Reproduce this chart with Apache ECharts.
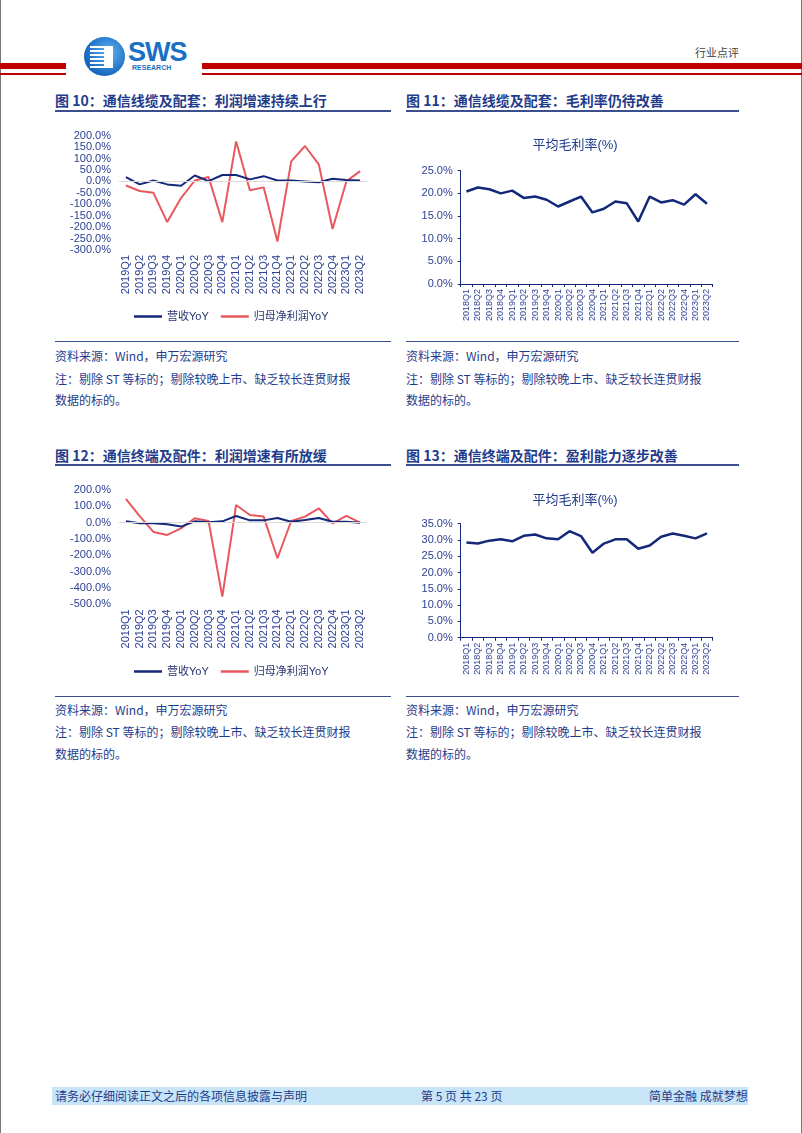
<!DOCTYPE html>
<html>
<head>
<meta charset="utf-8">
<script src="https://cdn.jsdelivr.net/npm/echarts@6/dist/echarts.min.js"></script>
<style>
html,body{margin:0;padding:0;background:#fff;}
body{width:802px;height:1133px;position:relative;overflow:hidden;font-family:"Noto Sans CJK SC","Liberation Sans",Arial,sans-serif;}
.abs{position:absolute;}
.red{background:#C00000;}
.head{font-size:14px;font-weight:bold;color:#1F3C8C;white-space:nowrap;line-height:16px;}
.uline{height:2px;background:#3B4F8F;}
.sline{height:1px;background:#3B4F8F;}
.src{font-size:12px;color:#1F3C8C;white-space:nowrap;line-height:14px;}
.foot{font-size:12px;color:#1F3C8C;white-space:nowrap;line-height:14px;}
#chart{position:absolute;left:0;top:0;width:802px;height:1133px;}
</style>
</head>
<body>
<div class="abs" style="left:0;top:0;width:1px;height:1133px;background:#777;"></div>
<div class="abs" style="left:801px;top:0;width:1px;height:1133px;background:#777;"></div>

<!-- header -->
<div class="abs red" style="left:0;top:63px;width:66px;height:6px;"></div>
<div class="abs red" style="left:0;top:73px;width:66px;height:2px;"></div>
<div class="abs red" style="left:202px;top:63px;width:600px;height:6px;"></div>
<div class="abs red" style="left:202px;top:73px;width:600px;height:2px;"></div>
<div class="abs" style="left:84px;top:37px;width:41px;height:39px;border-radius:50%;background:radial-gradient(circle at 60% 40%,#5FB4F0,#1565C0 70%);"></div>
<div class="abs" style="left:90px;top:46px;width:18px;height:22px;background:repeating-linear-gradient(#fff 0 2px,transparent 2px 4px);"></div>
<div class="abs" style="left:104px;top:46px;width:9px;height:22px;background:#fff;"></div>
<div class="abs" style="left:128px;top:38px;font-family:'Liberation Sans',Arial,sans-serif;font-weight:bold;font-size:27px;color:#1A6FC4;letter-spacing:-1px;line-height:28px;">SWS</div>
<div class="abs" style="left:132px;top:64px;font-family:'Liberation Sans',Arial,sans-serif;font-weight:bold;font-size:7px;color:#1A6FC4;line-height:8px;">RESEARCH</div>
<div class="abs" style="left:695px;top:45px;font-size:11px;color:#444;line-height:14px;">行业点评</div>

<!-- headings -->
<div class="abs head" style="left:55px;top:92px;">图 10：通信线缆及配套：利润增速持续上行</div>
<div class="abs uline" style="left:55px;top:110px;width:336px;"></div>
<div class="abs head" style="left:406px;top:92px;">图 11：通信线缆及配套：毛利率仍待改善</div>
<div class="abs uline" style="left:406px;top:110px;width:333px;"></div>

<div class="abs head" style="left:55px;top:447px;">图 12：通信终端及配件：利润增速有所放缓</div>
<div class="abs uline" style="left:55px;top:464px;width:336px;"></div>
<div class="abs head" style="left:406px;top:447px;">图 13：通信终端及配件：盈利能力逐步改善</div>
<div class="abs uline" style="left:406px;top:464px;width:333px;"></div>

<!-- sources -->
<div class="abs sline" style="left:55px;top:341px;width:336px;"></div>
<div class="abs sline" style="left:406px;top:341px;width:333px;"></div>
<div class="abs src" style="left:55px;top:349px;">资料来源：Wind，申万宏源研究</div>
<div class="abs src" style="left:55px;top:372px;">注：剔除 ST 等标的；剔除较晚上市、缺乏较长连贯财报</div>
<div class="abs src" style="left:55px;top:393px;">数据的标的。</div>
<div class="abs src" style="left:406px;top:349px;">资料来源：Wind，申万宏源研究</div>
<div class="abs src" style="left:406px;top:372px;">注：剔除 ST 等标的；剔除较晚上市、缺乏较长连贯财报</div>
<div class="abs src" style="left:406px;top:393px;">数据的标的。</div>

<div class="abs sline" style="left:55px;top:696px;width:336px;"></div>
<div class="abs sline" style="left:406px;top:696px;width:333px;"></div>
<div class="abs src" style="left:55px;top:703px;">资料来源：Wind，申万宏源研究</div>
<div class="abs src" style="left:55px;top:725px;">注：剔除 ST 等标的；剔除较晚上市、缺乏较长连贯财报</div>
<div class="abs src" style="left:55px;top:747px;">数据的标的。</div>
<div class="abs src" style="left:406px;top:703px;">资料来源：Wind，申万宏源研究</div>
<div class="abs src" style="left:406px;top:725px;">注：剔除 ST 等标的；剔除较晚上市、缺乏较长连贯财报</div>
<div class="abs src" style="left:406px;top:747px;">数据的标的。</div>

<!-- footer -->
<div class="abs" style="left:52px;top:1087px;width:696px;height:18px;background:#C8E5F7;"></div>
<div class="abs foot" style="left:55px;top:1089px;">请务必仔细阅读正文之后的各项信息披露与声明</div>
<div class="abs foot" style="left:421px;top:1089px;">第 5 页 共 23 页</div>
<div class="abs foot" style="left:649px;top:1089px;">简单金融 成就梦想</div>

<div id="chart"></div>

<script>
const quartersA = ['2019Q1','2019Q2','2019Q3','2019Q4','2020Q1','2020Q2','2020Q3','2020Q4','2021Q1','2021Q2','2021Q3','2021Q4','2022Q1','2022Q2','2022Q3','2022Q4','2023Q1','2023Q2'];
const quartersB = ['2018Q1','2018Q2','2018Q3','2018Q4','2019Q1','2019Q2','2019Q3','2019Q4','2020Q1','2020Q2','2020Q3','2020Q4','2021Q1','2021Q2','2021Q3','2021Q4','2022Q1','2022Q2','2022Q3','2022Q4','2023Q1','2023Q2'];

const cableRevenueYoY = [19,-13,4,-13,-19,26,1,28,28,9,23,4,4,0,-4,12,6,4];
const cableProfitYoY = [-18,-42,-50,-178,-73,4,19,-178,175,-39,-26,-263,88,155,75,-208,0,45];
const cableGrossMargin = [20.4,21.3,20.9,20.0,20.6,19.0,19.3,18.6,17.1,18.2,19.3,15.8,16.6,18.2,17.8,13.8,19.3,18.0,18.5,17.5,19.8,17.7];

const terminalRevenueYoY = [8,-4,-4,-10,-24,8,2,8,41,14,14,29,6,16,29,6,6,0];
const terminalProfitYoY = [145,40,-57,-75,-35,27,10,-453,108,47,37,-218,10,37,88,-4,41,0];
const terminalGrossMargin = [29.2,28.9,29.8,30.2,29.6,31.3,31.7,30.5,30.2,32.7,31.2,26.1,28.9,30.2,30.2,27.3,28.3,31.0,32.0,31.3,30.5,32.0];

const NAVY = '#14287A';
const RED = '#E8585E';
const LBL = '#2E4193';
const FF = '"Liberation Sans", Arial, "Noto Sans CJK SC", sans-serif';
const pct = v => v.toFixed(1) + '%';

const chart = echarts.init(document.getElementById('chart'), null, {renderer:'canvas'});

function yoyX(gi){
  return {type:'category', gridIndex:gi, data:quartersA, boundaryGap:true,
    axisLine:{show:false, onZero:false}, axisTick:{show:false},
    axisLabel:{rotate:90, interval:0, margin:5, fontSize:11, color:LBL, fontFamily:FF}};
}
function yoyY(gi,min,max,step){
  return {type:'value', gridIndex:gi, min:min, max:max, interval:step,
    axisLine:{show:false}, axisTick:{show:false}, splitLine:{show:false},
    axisLabel:{formatter:pct, margin:8, fontSize:11, color:LBL, fontFamily:FF}};
}
function gmX(gi){
  return {type:'category', gridIndex:gi, data:quartersB, boundaryGap:true,
    axisLine:{show:true, lineStyle:{color:NAVY, width:1}},
    axisTick:{show:true, interval:0, length:3, lineStyle:{color:NAVY}},
    axisLabel:{rotate:90, interval:0, margin:5, fontSize:9, color:LBL, fontFamily:FF}};
}
function gmY(gi,max){
  return {type:'value', gridIndex:gi, min:0, max:max, interval:5,
    axisLine:{show:true, lineStyle:{color:NAVY, width:1}},
    axisTick:{show:true, length:3, lineStyle:{color:NAVY}}, splitLine:{show:false},
    axisLabel:{formatter:pct, margin:8, fontSize:11, color:LBL, fontFamily:FF}};
}
const zeroLine = {symbol:['none','none'], silent:true, label:{show:false},
  lineStyle:{color:'#D9D9D9', type:'solid', width:1}, data:[{yAxis:0}]};

const legendBase = {icon:'rect', itemWidth:28, itemHeight:2.5, itemGap:12,
  data:['营收YoY','归母净利润YoY'],
  textStyle:{fontSize:11, color:'#2A3570', fontFamily:FF}};

chart.setOption({
  animation:false,
  title:[
    {text:'平均毛利率(%)', left:570, top:134, textAlign:'center',
      textStyle:{fontSize:13, fontWeight:'normal', color:'#1F3C8C', fontFamily:FF}},
    {text:'平均毛利率(%)', left:570, top:489, textAlign:'center',
      textStyle:{fontSize:13, fontWeight:'normal', color:'#1F3C8C', fontFamily:FF}}
  ],
  legend:[
    Object.assign({left:129, top:306}, legendBase),
    Object.assign({left:129, top:661}, legendBase)
  ],
  grid:[
    {left:119, top:135.7, width:248, height:114.3},
    {left:460.7, top:170.7, width:252, height:113.3},
    {left:119, top:490, width:248, height:114.3},
    {left:460.7, top:523.7, width:252, height:114}
  ],
  xAxis:[yoyX(0), gmX(1), yoyX(2), gmX(3)],
  yAxis:[yoyY(0,-300,200,50), gmY(1,25), yoyY(2,-500,200,100), gmY(3,35)],
  series:[
    {name:'营收YoY', type:'line', xAxisIndex:0, yAxisIndex:0, data:cableRevenueYoY,
      symbol:'none', lineStyle:{color:NAVY, width:2}, itemStyle:{color:NAVY}, z:3, markLine:zeroLine},
    {name:'归母净利润YoY', type:'line', xAxisIndex:0, yAxisIndex:0, data:cableProfitYoY,
      symbol:'none', lineStyle:{color:RED, width:2}, itemStyle:{color:RED}, z:2},
    {name:'平均毛利率', type:'line', xAxisIndex:1, yAxisIndex:1, data:cableGrossMargin,
      symbol:'none', lineStyle:{color:NAVY, width:2.5}, itemStyle:{color:NAVY}},
    {name:'营收YoY', type:'line', xAxisIndex:2, yAxisIndex:2, data:terminalRevenueYoY,
      symbol:'none', lineStyle:{color:NAVY, width:2}, itemStyle:{color:NAVY}, z:3, markLine:zeroLine},
    {name:'归母净利润YoY', type:'line', xAxisIndex:2, yAxisIndex:2, data:terminalProfitYoY,
      symbol:'none', lineStyle:{color:RED, width:2}, itemStyle:{color:RED}, z:2},
    {name:'平均毛利率', type:'line', xAxisIndex:3, yAxisIndex:3, data:terminalGrossMargin,
      symbol:'none', lineStyle:{color:NAVY, width:2.5}, itemStyle:{color:NAVY}}
  ]
});
</script>
</body>
</html>
